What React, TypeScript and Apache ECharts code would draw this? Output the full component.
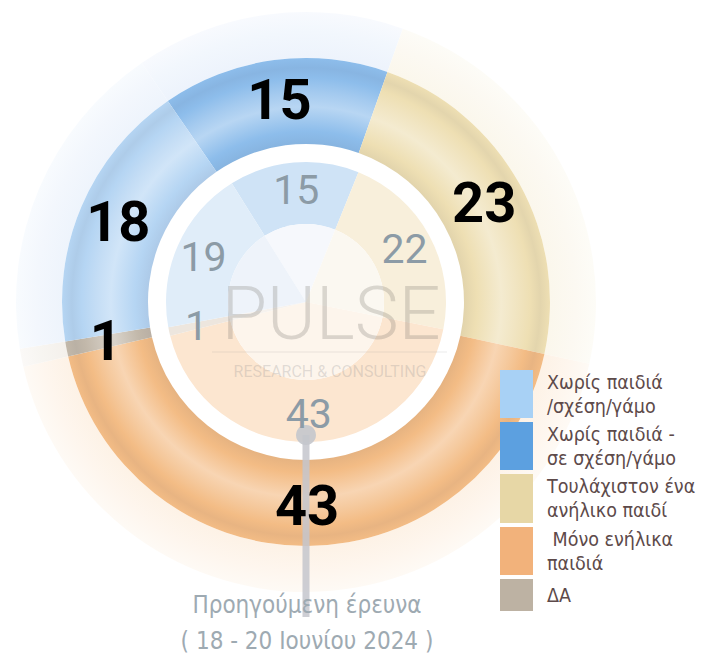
import React, { useEffect, useRef } from "react";
import * as echarts from "echarts";

// ---- data (pie order, clockwise) ----
const categories = [
  "Χωρίς παιδιά - σε σχέση/γάμο",
  "Τουλάχιστον ένα ανήλικο παιδί",
  "Μόνο ενήλικα παιδιά",
  "ΔΑ",
  "Χωρίς παιδιά /σχέση/γάμο",
];
const currentValues = [15, 23, 43, 1, 18];
const previousValues = [15, 22, 43, 1, 19];

// legend (display order)
const legendLabels = [
  "Χωρίς παιδιά\n/σχέση/γάμο",
  "Χωρίς παιδιά -\nσε σχέση/γάμο",
  "Τουλάχιστον ένα\nανήλικο παιδί",
  " Μόνο ενήλικα\nπαιδιά",
  "ΔΑ",
];
const legendColors = ["#A8D1F5", "#5CA0E0", "#E7D7A6", "#F2B27B", "#BDB2A3"];

const prevTitle = "Προηγούμενη έρευνα";
const prevDates = "( 18 - 20 Ιουνίου 2024 )";

// colours per ring (pie order)
const outerColors = ["#8DBDEB", "#EEDFB3", "#F3BC85", "#C2B8AA", "#B5D5F3"];
const haloColors = ["#EDF3FC", "#FBF7EC", "#FDF2E6", "#F4F0EB", "#EEF4FC"];
const innerColors = ["#CFE3F6", "#F8EFDB", "#FCE6D0", "#EDE6DE", "#E0EDF9"];
const coreColors = ["#F6F8FC", "#FBF8F1", "#FDF5EC", "#F6F2EE", "#EEF3FA"];

const CX = 306;
const CY = 302;
const COND_FONT = '"DejaVu Sans Condensed", "Roboto", sans-serif';
const NUM_FONT = 'Roboto, "DejaVu Sans Condensed", sans-serif';

function hexToRgb(h: string) {
  const n = parseInt(h.slice(1), 16);
  return [(n >> 16) & 255, (n >> 8) & 255, n & 255];
}
function mix(h: string, target: number[], t: number) {
  const c = hexToRgb(h);
  const r = c.map((v, i) => Math.round(v + (target[i] - v) * t));
  return `rgb(${r[0]},${r[1]},${r[2]})`;
}
const tint = (h: string, t: number) => mix(h, [255, 255, 255], t);
const shade = (h: string, t: number) => mix(h, [60, 60, 80], t);

export default function App() {
  const ref = useRef<HTMLDivElement>(null);
  useEffect(() => {
    document.body.style.margin = "0";
    if (!ref.current) return;
    const chart = echarts.init(ref.current, null, { renderer: "svg" });
    const R0 = 158;
    const R1 = 244;
    const RH = 290;
    const ringGrad = (base: string) =>
      new echarts.graphic.RadialGradient(
        CX,
        CY,
        R1,
        [
          { offset: 0, color: base },
          { offset: R0 / R1, color: shade(base, 0.07) },
          { offset: 0.7, color: base },
          { offset: 0.8, color: tint(base, 0.38) },
          { offset: 0.86, color: tint(base, 0.2) },
          { offset: 0.92, color: base },
          { offset: 0.96, color: shade(base, 0.06) },
          { offset: 1, color: base },
        ],
        true
      );
    const haloGrad = (base: string) =>
      new echarts.graphic.RadialGradient(
        CX,
        CY,
        RH,
        [
          { offset: 0, color: base },
          { offset: R1 / RH, color: base },
          { offset: 0.93, color: tint(base, 0.3) },
          { offset: 1, color: tint(base, 0.6) },
        ],
        true
      );

    const mk = (vals: number[], colors: any[]) =>
      vals.map((v, i) => ({ name: categories[i], value: v, itemStyle: { color: colors[i] } }));

    const basePie = {
      type: "pie",
      center: [CX, CY],
      clockwise: true,
      avoidLabelOverlap: false,
      silent: true,
      labelLine: { show: false },
      emphasis: { disabled: true },
    };

    const legendGraphics: any[] = [];
    const boxH = [48, 48, 49, 48, 32];
    let y = 370;
    legendLabels.forEach((lab, i) => {
      legendGraphics.push({
        type: "rect",
        shape: { x: 500, y, width: 33, height: boxH[i] },
        style: { fill: legendColors[i] },
        z: 5,
      });
      legendGraphics.push({
        type: "text",
        x: 547,
        y: y + boxH[i] / 2,
        style: {
          text: lab,
          fill: "#5D4A4A",
          font: `19.5px ${COND_FONT}`,
          lineHeight: 24,
          verticalAlign: "middle",
          align: "left",
        },
        z: 5,
      });
      y += boxH[i] + 4;
    });

    chart.setOption({
      animation: false,
      backgroundColor: "#ffffff",
      series: [
        {
          ...basePie,
          z: 1,
          radius: [R1, RH],
          startAngle: 124.5,
          label: { show: false },
          data: mk(currentValues, haloColors.map((c) => haloGrad(c))),
        },
        {
          ...basePie,
          z: 2,
          radius: [R0, R1],
          startAngle: 124.5,
          label: { show: false },
          data: mk(currentValues, outerColors.map((c) => ringGrad(c))),
        },
        { ...basePie, z: 2, radius: [78, 140], startAngle: 122, label: { show: false }, data: mk(previousValues, innerColors) },
        { ...basePie, z: 2, radius: [0, 78], startAngle: 122, label: { show: false }, data: mk(previousValues, coreColors) },
        {
          ...basePie,
          z: 6,
          radius: [78, 140],
          startAngle: 122,
          itemStyle: { color: "rgba(0,0,0,0)" },
          label: {
            show: true,
            position: "inside",
            formatter: "{c}",
            color: "#8C9BA6",
            fontFamily: NUM_FONT,
            fontSize: 41,
            fontWeight: "normal",
          },
          data: previousValues.map((v, i) => ({ name: categories[i], value: v })),
        },
        {
          ...basePie,
          z: 6,
          radius: [R0, R1],
          startAngle: 124.5,
          itemStyle: { color: "rgba(0,0,0,0)" },
          label: {
            show: true,
            position: "inside",
            formatter: "{c}",
            color: "#000000",
            fontFamily: NUM_FONT,
            fontSize: 56,
            fontWeight: "bold",
          },
          data: currentValues.map((v, i) => ({ name: categories[i], value: v })),
        },
      ],
      graphic: [
        {
          type: "text",
          x: 331,
          y: 313,
          style: {
            text: "PULSE",
            fill: "rgba(120,115,110,0.26)",
            font: '300 74px Roboto, sans-serif',
            align: "center",
            verticalAlign: "middle",
          },
          z: 4,
        },
        {
          type: "line",
          shape: { x1: 212, y1: 352, x2: 447, y2: 352 },
          style: { stroke: "rgba(150,150,150,0.18)", lineWidth: 1 },
          z: 4,
        },
        {
          type: "text",
          x: 330,
          y: 371,
          style: {
            text: "RESEARCH & CONSULTING",
            fill: "rgba(140,140,140,0.26)",
            font: "16px Roboto, sans-serif",
            align: "center",
            verticalAlign: "middle",
          },
          z: 4,
        },
        {
          type: "line",
          shape: { x1: CX, y1: 435, x2: CX, y2: 617 },
          style: { stroke: "rgba(196,198,204,0.85)", lineWidth: 7 },
          z: 4,
        },
        {
          type: "circle",
          shape: { cx: CX, cy: 435, r: 10 },
          style: { fill: "rgba(196,198,204,0.9)" },
          z: 4,
        },
        {
          type: "text",
          x: 307,
          y: 605,
          style: {
            text: prevTitle,
            fill: "#9EAAB2",
            font: `24px ${COND_FONT}`,
            align: "center",
            verticalAlign: "middle",
          },
          z: 5,
        },
        {
          type: "text",
          x: 307,
          y: 641,
          style: {
            text: prevDates,
            fill: "#9EAAB2",
            font: `24px ${COND_FONT}`,
            align: "center",
            verticalAlign: "middle",
          },
          z: 5,
        },
        ...legendGraphics,
      ],
    });
    return () => chart.dispose();
  }, []);
  return <div ref={ref} style={{ width: 706, height: 659 }} />;
}
